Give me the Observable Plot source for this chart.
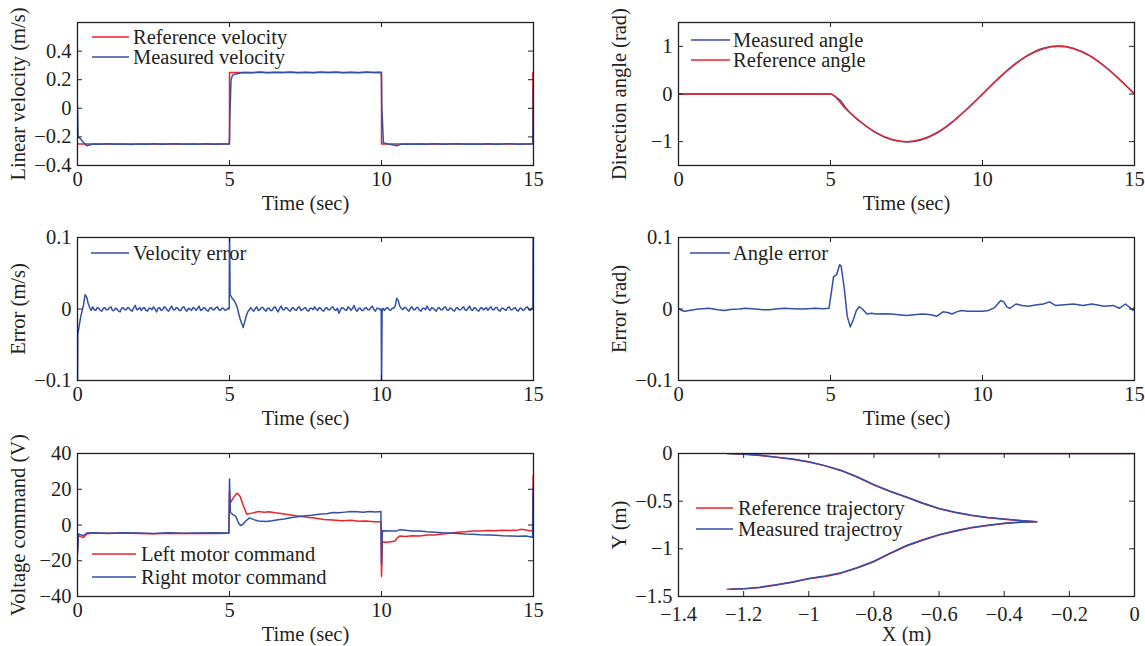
<!DOCTYPE html>
<html><head><meta charset="utf-8">
<script src="https://cdn.jsdelivr.net/npm/d3@7"></script>
<script src="https://cdn.jsdelivr.net/npm/@observablehq/plot@0.6"></script>
<style>
body{margin:0;background:#fff}
#fig{position:relative;width:1145px;height:646px;font-family:"Liberation Serif",serif;overflow:hidden}
.panel{position:absolute}
.legend{position:absolute;font-size:20.5px;color:#231f20;white-space:nowrap}
.legend .row{position:absolute;left:0;display:flex;align-items:center;height:20px}
.legend svg{display:block}
</style></head><body><div id="fig"></div><script>
// ---------- data ----------
const timeTicks = [0, 5, 10, 15];
const velTicks = [-0.4, -0.2, 0, 0.2, 0.4];
const angTicks = [-1, 0, 1];
const errTicks = [-0.1, 0, 0.1];
const voltTicks = [-40, -20, 0, 20, 40];
const trajXTicks = [-1.4, -1.2, -1, -0.8, -0.6, -0.4, -0.2, 0];
const trajYTicks = [-1.5, -1, -0.5, 0];

const velRef = [[0,-0.25],[5,-0.25],[5,0.25],[10,0.25],[10,-0.25],[14.98,-0.25],[14.98,0.25]];
const velMeas = [[0,0.02],[0.02,-0.2],[0.1,-0.215],[0.2,-0.24],[0.3,-0.262],[0.4,-0.256],[0.5,-0.25],[0.75,-0.252],[1,-0.248],[1.25,-0.251],[1.5,-0.249],[1.75,-0.253],[2,-0.249],[2.25,-0.251],[2.5,-0.248],[2.75,-0.252],[3,-0.25],[3.25,-0.248],[3.5,-0.252],[3.75,-0.249],[4,-0.251],[4.25,-0.248],[4.5,-0.252],[4.75,-0.249],[4.99,-0.25],
[5.0,-0.2],[5.01,-0.07],[5.05,0.2],[5.1,0.232],[5.2,0.24],[5.35,0.247],[5.5,0.251],[5.75,0.249],[6,0.253],[6.25,0.248],[6.5,0.252],[6.75,0.25],[7,0.254],[7.25,0.249],[7.5,0.252],[7.75,0.248],[8,0.253],[8.25,0.25],[8.5,0.254],[8.75,0.249],[9,0.252],[9.25,0.248],[9.5,0.253],[9.75,0.25],[9.99,0.252],
[10.0,0.2],[10.01,0.0],[10.03,-0.08],[10.06,-0.24],[10.2,-0.25],[10.4,-0.256],[10.5,-0.262],[10.6,-0.253],[10.75,-0.25],[11,-0.252],[11.25,-0.249],[11.5,-0.251],[11.75,-0.248],[12,-0.252],[12.25,-0.25],[12.5,-0.248],[12.75,-0.252],[13,-0.249],[13.25,-0.251],[13.5,-0.248],[13.75,-0.252],[14,-0.25],[14.25,-0.248],[14.5,-0.251],[14.75,-0.249],[14.98,-0.25],[15,0.15]];

const angleRef = [[0,0],[5,0],[5.5,-0.309],[6,-0.588],[6.5,-0.809],[7,-0.951],[7.5,-1],[8,-0.951],[8.5,-0.809],[9,-0.588],[9.5,-0.309],[10,0],[10.5,0.309],[11,0.588],[11.5,0.809],[12,0.951],[12.5,1],[13,0.951],[13.5,0.809],[14,0.588],[14.5,0.309],[15,0]];
const angleMeas = [[0,0.001],[5,0.001],[5.2,-0.075],[5.35,-0.15],[5.5,-0.29],[5.65,-0.4],[6,-0.592],[6.5,-0.815],[7,-0.957],[7.5,-1.008],[8,-0.958],[8.5,-0.818],[9,-0.594],[9.5,-0.31],[10,-0.003],[10.5,0.312],[11,0.595],[11.5,0.814],[12,0.96],[12.5,1.005],[13,0.957],[13.5,0.815],[14,0.592],[14.5,0.311],[15,0.003]];

const velErr = [[0,-0.12],[0.01,-0.035],[0.1,-0.012],[0.2,0.006],[0.25,0.02],[0.3,0.017],[0.35,0.008],[0.4,0.002],[0.45,-0.002],
[0.5,0.003],[0.55,-0.001],[0.6,-0.002],[0.65,0.002],[0.7,0.001],[0.75,-0.002],[0.8,-0.003],[0.85,0.001],[0.9,0.002],[0.95,-0.001],[1,-0.001],[1.05,0.002],[1.1,0.003],[1.15,-0.002],[1.2,-0.002],[1.25,0.001],[1.3,0],[1.35,-0.003],[1.4,-0.004],[1.45,0.001],[1.5,0.002],[1.55,-0.001],[1.6,-0.001],[1.65,0.002],[1.7,0.001],[1.75,-0.002],[1.8,-0.003],[1.85,0.002],[1.9,0.005],[1.95,-0.001],[2,0],[2.05,0.002],[2.1,-0.002],[2.15,0.001],[2.2,0.002],[2.25,-0.002],[2.3,-0.003],[2.35,0.001],[2.4,0.001],[2.45,-0.001],[2.5,0.003],[2.55,0],[2.6,-0.004],[2.65,0.001],[2.7,0.002],[2.75,-0.002],[2.8,-0.001],[2.85,0.003],[2.9,0.002],[2.95,-0.002],[3,-0.003],[3.05,0.001],[3.1,0.004],[3.15,-0.001],[3.2,-0.001],[3.25,0.002],[3.3,0.001],[3.35,-0.002],[3.4,-0.002],[3.45,0.002],[3.5,0.003],[3.55,-0.001],[3.6,-0.003],[3.65,0.001],[3.7,0],[3.75,-0.002],[3.8,0.002],[3.85,0.001],[3.9,-0.002],[3.95,0.001],[4,0.004],[4.05,-0.002],[4.1,-0.001],[4.15,0.002],[4.2,0.001],[4.25,-0.002],[4.3,-0.003],[4.35,0.001],[4.4,0.002],[4.45,-0.001],[4.5,-0.001],[4.55,0.002],[4.6,0.003],[4.65,-0.001],[4.7,-0.002],[4.75,0.001],[4.8,0.001],[4.85,-0.002],[4.9,-0.001],[4.95,0.001],[4.99,0],
[5.0,0.12],[5.02,0.02],[5.05,0.018],[5.1,0.014],[5.15,0.012],[5.2,0.008],[5.25,0.003],[5.3,-0.006],[5.35,-0.014],[5.4,-0.02],[5.45,-0.026],[5.5,-0.018],[5.55,-0.01],[5.6,-0.004],[5.65,-0.001],
[5.7,0.002],[5.75,-0.001],[5.8,-0.003],[5.85,0.001],[5.9,0.003],[5.95,-0.002],[6,-0.001],[6.05,0.002],[6.1,0.002],[6.15,-0.001],[6.2,-0.003],[6.25,0.001],[6.3,0.001],[6.35,-0.002],[6.4,-0.002],[6.45,0.002],[6.5,0.003],[6.55,-0.001],[6.6,-0.004],[6.65,0.001],[6.7,0.004],[6.75,-0.001],[6.8,-0.001],[6.85,0.002],[6.9,0.001],[6.95,-0.002],[7,-0.003],[7.05,0.001],[7.1,0.002],[7.15,-0.001],[7.2,-0.002],[7.25,0.002],[7.3,0.003],[7.35,-0.002],[7.4,-0.001],[7.45,0.001],[7.5,0.002],[7.55,-0.002],[7.6,-0.003],[7.65,0.001],[7.7,0.001],[7.75,-0.001],[7.8,0.003],[7.85,0],[7.9,-0.002],[7.95,0.002],[8,0.001],[8.05,-0.002],[8.1,-0.003],[8.15,0.001],[8.2,0.002],[8.25,-0.001],[8.3,-0.001],[8.35,0.002],[8.4,0.003],[8.45,-0.001],[8.5,-0.002],[8.55,0.001],[8.6,-0.006],[8.65,-0.001],[8.7,0.002],[8.75,0.001],[8.8,-0.001],[8.85,-0.002],[8.9,0.003],[8.95,0.001],[9,-0.002],[9.05,0.001],[9.1,0.005],[9.15,-0.001],[9.2,-0.003],[9.25,0.001],[9.3,0.001],[9.35,-0.002],[9.4,-0.002],[9.45,0.001],[9.5,0.002],[9.55,-0.001],[9.6,-0.001],[9.65,0.002],[9.7,0.004],[9.75,-0.001],[9.8,-0.003],[9.85,0.001],[9.9,0.001],[9.95,-0.001],[9.99,0],
[10.0,-0.12],[10.02,-0.004],[10.05,0.001],[10.1,-0.002],[10.15,0.001],[10.2,0.002],[10.25,-0.001],[10.3,-0.002],[10.35,0.001],[10.4,0.001],[10.45,0.004],[10.5,0.015],[10.55,0.012],[10.6,0.004],[10.65,0.001],
[10.7,-0.001],[10.75,0.002],[10.8,0.002],[10.85,-0.001],[10.9,-0.003],[10.95,0.001],[11,0.003],[11.05,-0.001],[11.1,-0.001],[11.15,0.002],[11.2,0.002],[11.25,-0.002],[11.3,-0.003],[11.35,0.001],[11.4,0.001],[11.45,-0.001],[11.5,0.004],[11.55,0],[11.6,-0.002],[11.65,0.002],[11.7,0.001],[11.75,-0.001],[11.8,-0.003],[11.85,0.001],[11.9,0.002],[11.95,-0.001],[12,-0.001],[12.05,0.002],[12.1,0.003],[12.15,-0.001],[12.2,-0.002],[12.25,0.001],[12.3,0.001],[12.35,-0.002],[12.4,-0.003],[12.45,0.001],[12.5,0.002],[12.55,-0.001],[12.6,-0.001],[12.65,0.001],[12.7,0.003],[12.75,-0.001],[12.8,-0.002],[12.85,0.001],[12.9,0.004],[12.95,-0.001],[13,-0.002],[13.05,0.002],[13.1,0.001],[13.15,-0.002],[13.2,-0.003],[13.25,0.001],[13.3,0.002],[13.35,-0.001],[13.4,0],[13.45,0.002],[13.5,-0.002],[13.55,0.001],[13.6,0.003],[13.65,-0.001],[13.7,-0.001],[13.75,0.002],[13.8,0.002],[13.85,-0.002],[13.9,-0.003],[13.95,0.001],[14,0.001],[14.05,-0.001],[14.1,-0.002],[14.15,0.002],[14.2,0.003],[14.25,-0.001],[14.3,-0.001],[14.35,0.001],[14.4,0.002],[14.45,-0.002],[14.5,-0.003],[14.55,0.001],[14.6,0.001],[14.65,-0.002],[14.7,-0.001],[14.75,0.002],[14.8,0.003],[14.85,-0.001],[14.9,-0.002],[14.95,0.001],[14.98,0],[14.99,0.12]];

const angleErr = [[0,0.001],[0.1,-0.002],[0.2,-0.003],[0.35,-0.002],[0.5,-0.001],[0.65,0],[0.8,0.0005],[1.0,0.001],[1.15,0],[1.3,-0.001],[1.5,-0.002],[1.65,-0.001],[1.8,-0.0005],[2,0],[2.2,0.001],[2.5,0],[2.8,-0.001],[3,-0.001],[3.2,0],[3.5,0.001],[3.75,0.0005],[4,0],[4.25,0.0005],[4.5,0.001],[4.75,0.0005],[4.95,0.001],[5.05,0.03],[5.1,0.045],[5.2,0.048],[5.3,0.062],[5.35,0.06],[5.45,0.03],[5.55,-0.01],[5.65,-0.025],[5.75,-0.015],[5.85,-0.002],[5.95,0.003],[6.05,0],[6.2,-0.007],[6.35,-0.006],[6.5,-0.007],[6.75,-0.0065],[7,-0.007],[7.25,-0.008],[7.5,-0.009],[7.75,-0.008],[8,-0.007],[8.15,-0.0075],[8.3,-0.008],[8.5,-0.01],[8.7,-0.004],[8.85,-0.005],[9,-0.007],[9.15,-0.004],[9.3,-0.002],[9.5,-0.003],[9.75,-0.003],[10,-0.003],[10.2,-0.002],[10.4,0.002],[10.6,0.012],[10.7,0.01],[10.8,0.003],[10.9,0.001],[11.1,0.007],[11.3,0.005],[11.5,0.004],[11.8,0.006],[12,0.007],[12.2,0.01],[12.4,0.005],[12.7,0.006],[13,0.007],[13.3,0.005],[13.6,0.007],[14,0.004],[14.3,0.005],[14.5,0.001],[14.7,0.007],[14.85,0.002],[14.95,-0.002],[15,0.003]];

const voltLeft = [[0,-15],[0.03,-6],[0.1,-6.5],[0.2,-7],[0.3,-5],[0.5,-4.5],[1,-4.8],[1.5,-4.5],[2,-4.7],[2.5,-4.9],[3,-4.6],[3.5,-4.8],[4,-4.6],[4.5,-4.7],[4.98,-4.6],[5.0,19],[5.03,12.5],[5.1,14.5],[5.2,17],[5.26,17.8],[5.35,16],[5.45,11],[5.57,6],[5.7,6.5],[5.95,7.5],[6.15,7.1],[6.3,7.4],[6.5,6.8],[6.7,6.4],[7,5.6],[7.3,4.9],[7.5,4.5],[7.8,3.9],[8.1,3.1],[8.4,2.8],[8.7,2.4],[9,2.6],[9.25,2.1],[9.5,2.3],[9.75,1.8],[9.98,1.8],[10.0,-28.8],[10.03,-9.5],[10.2,-9.6],[10.45,-9],[10.5,-7.5],[10.6,-6.2],[10.8,-6.4],[11,-6],[11.25,-6.1],[11.5,-5.6],[11.75,-5.6],[12,-5],[12.25,-4.6],[12.5,-4],[12.75,-3.8],[13,-3.3],[13.25,-3.4],[13.5,-3.1],[13.75,-3.2],[14,-3],[14.25,-3.1],[14.5,-2.8],[14.6,-2.4],[14.8,-3],[14.97,-3.3],[14.99,27.7]];
const voltRight = [[0,-16],[0.03,-5],[0.1,-5.5],[0.2,-6],[0.3,-4.5],[0.5,-4.4],[1,-4.6],[1.5,-4.3],[2,-4.5],[2.5,-4.7],[3,-4.4],[3.5,-4.6],[4,-4.5],[4.5,-4.3],[4.98,-4.5],[5.0,25.8],[5.03,7],[5.1,6],[5.2,5],[5.3,1],[5.36,-0.3],[5.45,0.5],[5.55,2.5],[5.66,4],[5.8,3],[5.95,2.2],[6.2,2],[6.4,2.4],[6.6,3],[6.8,3.3],[7.0,4],[7.3,4.7],[7.5,5.2],[7.7,5.5],[8.0,6.2],[8.2,6.3],[8.4,7],[8.6,6.8],[8.8,7.2],[9.0,7.6],[9.2,7.4],[9.4,7.2],[9.6,7.5],[9.8,7.3],[9.98,7.5],[10.0,-22],[10.03,-3.2],[10.3,-3.4],[10.5,-3.3],[10.6,-2.6],[10.8,-3.0],[11,-3.3],[11.25,-3.4],[11.5,-3.8],[11.75,-4.0],[12,-4.4],[12.25,-4.5],[12.5,-4.8],[12.75,-5.1],[13,-5.2],[13.25,-5.5],[13.5,-5.6],[13.75,-5.8],[14,-6],[14.25,-6.1],[14.5,-6.3],[14.75,-6.2],[14.97,-6.8],[14.99,21]];

const trajRef = [[0,0],[-1.25,0],[-1.2,-0.008],[-1.15,-0.02],[-1.1,-0.04],[-1.05,-0.06],[-1.0,-0.09],[-0.95,-0.13],[-0.9,-0.18],[-0.85,-0.25],[-0.8,-0.33],[-0.75,-0.4],[-0.7,-0.46],[-0.65,-0.525],[-0.6,-0.58],[-0.55,-0.62],[-0.5,-0.65],[-0.45,-0.675],[-0.4,-0.69],[-0.35,-0.705],[-0.3,-0.715],
[-0.35,-0.722],[-0.4,-0.735],[-0.45,-0.755],[-0.5,-0.78],[-0.55,-0.815],[-0.6,-0.855],[-0.65,-0.91],[-0.7,-0.97],[-0.75,-1.05],[-0.8,-1.135],[-0.85,-1.2],[-0.9,-1.255],[-0.95,-1.29],[-1.0,-1.315],[-1.05,-1.35],[-1.1,-1.38],[-1.15,-1.405],[-1.2,-1.42],[-1.25,-1.425]];
const trajMeas = [[0,0.001],[-1.25,0.001],[-1.2,-0.006],[-1.15,-0.019],[-1.1,-0.038],[-1.05,-0.058],[-1.0,-0.087],[-0.95,-0.127],[-0.9,-0.178],[-0.85,-0.246],[-0.8,-0.326],[-0.75,-0.396],[-0.7,-0.457],[-0.65,-0.52],[-0.6,-0.576],[-0.55,-0.617],[-0.5,-0.648],[-0.45,-0.672],[-0.4,-0.688],[-0.35,-0.703],[-0.3,-0.715],
[-0.35,-0.72],[-0.4,-0.732],[-0.45,-0.752],[-0.5,-0.777],[-0.55,-0.811],[-0.6,-0.851],[-0.65,-0.905],[-0.7,-0.965],[-0.75,-1.045],[-0.8,-1.13],[-0.85,-1.196],[-0.9,-1.251],[-0.95,-1.286],[-1.0,-1.312],[-1.05,-1.347],[-1.1,-1.377],[-1.15,-1.402],[-1.2,-1.418],[-1.24,-1.423]];

// ---------- drawing ----------
const RED = "#ee2229", BLUE = "#3150a6", INK = "#231f20";
const fmt = d => d === 0 ? "0" : String(d).replace("-", "\u2212");
const fig = document.getElementById("fig");

function panel(o) {
  const pw = o.width - o.ml - o.mr, ph = o.height - o.mt - o.mb;
  const marks = [
    ...o.series.map(s => Plot.line(s.data, {x: d => d[0], y: d => d[1], stroke: s.color, strokeWidth: 1.5, clip: true, curve: s.curve || "linear"})),
    Plot.ruleX(o.xTicks, {x: d => d, insetTop: ph - 5, stroke: INK}),
    Plot.ruleX(o.xTicks, {x: d => d, insetBottom: ph - 5, stroke: INK}),
    Plot.ruleY(o.yTicks, {y: d => d, insetRight: pw - 5, stroke: INK}),
    Plot.ruleY(o.yTicks, {y: d => d, insetLeft: pw - 5, stroke: INK}),
    Plot.frame({stroke: INK, strokeWidth: 1.3})
  ];
  const xPad = o.xPad ?? 6;
  const svg = Plot.plot({
    width: o.width, height: o.height,
    marginLeft: o.ml, marginRight: o.mr, marginTop: o.mt, marginBottom: o.mb,
    x: {domain: o.xDomain, ticks: o.xTicks, tickSize: 0, tickPadding: xPad, tickFormat: fmt,
        label: o.xLabel, labelAnchor: "center", labelOffset: 44, labelArrow: "none"},
    y: {domain: o.yDomain, ticks: o.yTicks, tickSize: 0, tickPadding: 6, tickFormat: fmt,
        label: o.yLabel, labelAnchor: "center", labelOffset: 67, labelArrow: "none"},
    style: {fontFamily: "Liberation Serif, serif", fontSize: "20.5px", color: INK, background: "transparent", overflow: "visible"},
    marks
  });
  svg.classList.add("panel");
  svg.style.left = o.left + "px";
  svg.style.top = o.top + "px";
  fig.appendChild(svg);

  const lg = document.createElement("div");
  lg.className = "legend";
  lg.style.left = o.legend.x + "px";
  lg.style.top = (o.legend.y - 10) + "px";
  o.legend.items.forEach((it, i) => {
    const row = document.createElement("div");
    row.className = "row";
    row.style.top = (i * o.legend.dy) + "px";
    row.innerHTML = `<svg width="${o.legend.len}" height="4"><line x1="0" x2="${o.legend.len}" y1="2" y2="2" stroke="${it.color}" stroke-width="1.5"/></svg><span style="margin-left:${o.legend.gap}px">${it.label}</span>`;
    lg.appendChild(row);
  });
  fig.appendChild(lg);
}

const L = {left: 0, width: 560, ml: 77, mr: 27};
const R = {left: 560, width: 585, ml: 118, mr: 11};
const row1 = {top: 0, height: 215, mt: 22, mb: 50};
const row2 = {top: 215, height: 210, mt: 22, mb: 45};
const row3 = {top: 425, height: 221, mt: 28, mb: 50};

panel({...L, ...row1, xDomain: [0, 15], xTicks: timeTicks, yDomain: [-0.4, 0.6], yTicks: velTicks,
  xLabel: "Time (sec)", yLabel: "Linear velocity (m/s)",
  series: [{data: velRef, color: RED}, {data: velMeas, color: BLUE}],
  legend: {x: 92, y: 37, dy: 20, len: 37, gap: 4, items: [{label: "Reference velocity", color: RED}, {label: "Measured velocity", color: BLUE}]}});

panel({...R, ...row1, xDomain: [0, 15], xTicks: timeTicks, yDomain: [-1.5, 1.5], yTicks: angTicks,
  xLabel: "Time (sec)", yLabel: "Direction angle (rad)",
  series: [{data: angleMeas, color: BLUE, curve: "monotone-x"}, {data: angleRef, color: RED, curve: "monotone-x"}],
  legend: {x: 691, y: 40, dy: 20, len: 39, gap: 3, items: [{label: "Measured angle", color: BLUE}, {label: "Reference angle", color: RED}]}});

panel({...L, ...row2, xDomain: [0, 15], xTicks: timeTicks, yDomain: [-0.1, 0.1], yTicks: errTicks,
  xLabel: "Time (sec)", yLabel: "Error (m/s)",
  series: [{data: velErr, color: BLUE}],
  legend: {x: 91, y: 253, dy: 20, len: 38, gap: 4, items: [{label: "Velocity error", color: BLUE}]}});

panel({...R, ...row2, xDomain: [0, 15], xTicks: timeTicks, yDomain: [-0.1, 0.1], yTicks: errTicks,
  xLabel: "Time (sec)", yLabel: "Error (rad)",
  series: [{data: angleErr, color: BLUE}],
  legend: {x: 690, y: 253, dy: 20, len: 40, gap: 3, items: [{label: "Angle error", color: BLUE}]}});

panel({...L, ...row3, xDomain: [0, 15], xTicks: timeTicks, yDomain: [-40, 40], yTicks: voltTicks,
  xLabel: "Time (sec)", yLabel: "Voltage command (V)",
  series: [{data: voltLeft, color: RED}, {data: voltRight, color: BLUE}],
  legend: {x: 92, y: 554, dy: 23, len: 44, gap: 5, items: [{label: "Left motor command", color: RED}, {label: "Right motor command", color: BLUE}]}});

panel({...R, ...row3, xDomain: [-1.4, 0], xTicks: trajXTicks, yDomain: [-1.5, 0], yTicks: trajYTicks, xPad: 10,
  xLabel: "X (m)", yLabel: "Y (m)",
  series: [{data: trajRef, color: RED}, {data: trajMeas, color: BLUE}],
  legend: {x: 696, y: 508, dy: 21, len: 37, gap: 5, items: [{label: "Reference trajectory", color: RED}, {label: "Measured trajectroy", color: BLUE}]}});
</script></body></html>
